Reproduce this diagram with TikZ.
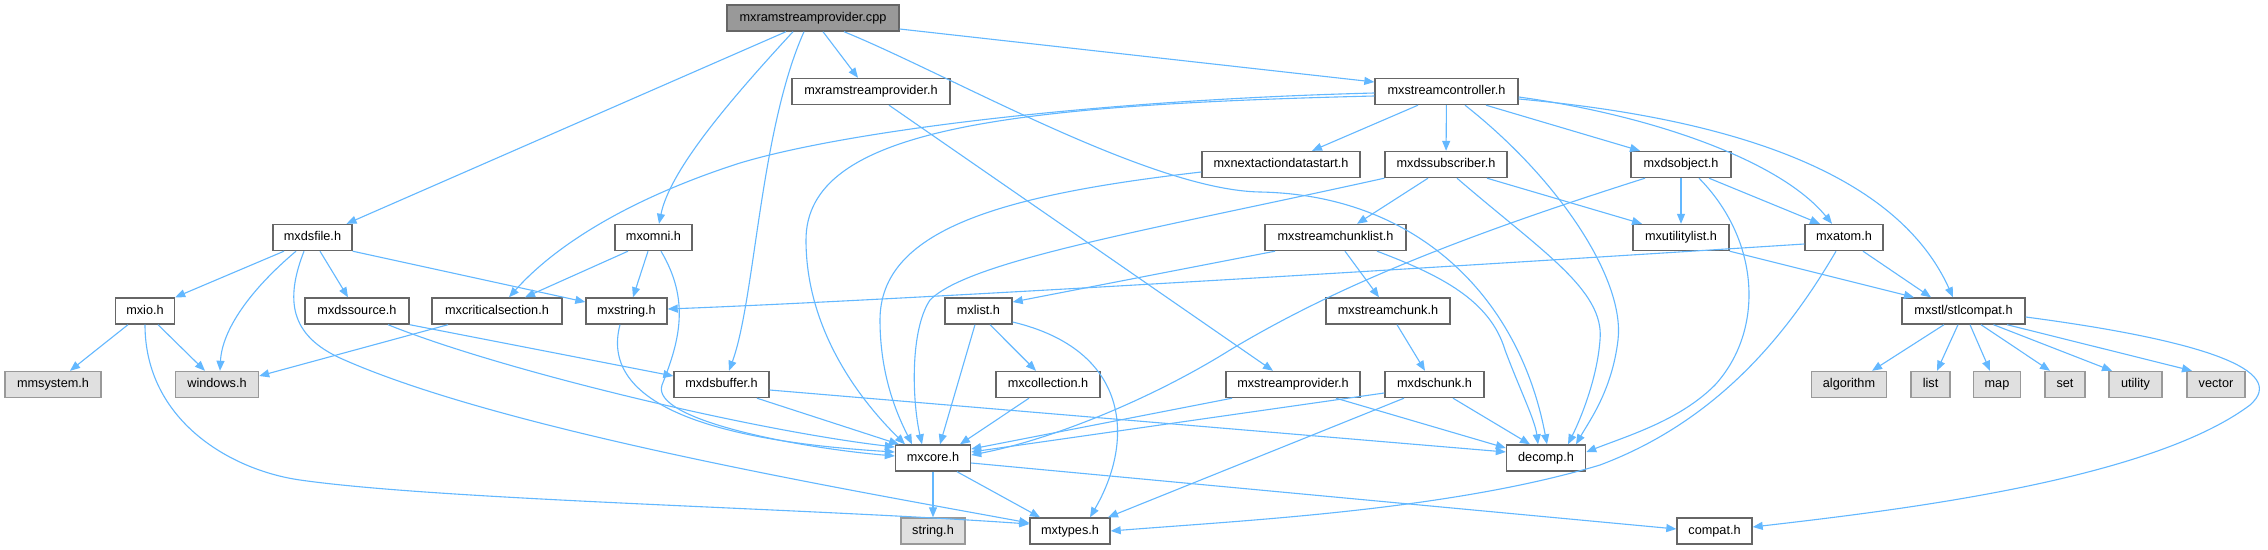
\documentclass[tikz,border=0pt]{standalone}
\usepackage{fontspec}
\setmainfont{Liberation Sans}
\usetikzlibrary{arrows.meta}
\definecolor{edgec}{HTML}{63B8FF}
\definecolor{bordc}{HTML}{666666}
\definecolor{extb}{HTML}{999999}
\definecolor{extf}{HTML}{E0E0E0}
\definecolor{rootf}{HTML}{999999}
\begin{document}
\begin{tikzpicture}[x=1pt,y=-1pt,
 box/.style={draw=bordc, line width=1.4pt, fill=white, minimum height=26pt, inner sep=0pt,
   font=\fontsize{12.7}{15}\selectfont, text height=9.3pt, text depth=2.7pt},
 ext/.style={box, draw=extb, fill=extf},
 root/.style={box, fill=rootf},
 edge/.style={draw=edgec, line width=1.1pt, -{Triangle[length=10pt,width=8pt]}}]
\fill[white] (0,0) rectangle (2268,549);
\useasboundingbox (0,0) rectangle (2268,549);
% nodes
\node[root, minimum width=172pt] (cpp) at (813,18) {mxramstreamprovider.cpp};
\node[box, minimum width=158pt] (rsph) at (871,91.5) {mxramstreamprovider.h};
\node[box, minimum width=143pt] (ctrl) at (1446.5,91.5) {mxstreamcontroller.h};
\node[box, minimum width=158pt] (nads) at (1281,164.5) {mxnextactiondatastart.h};
\node[box, minimum width=122pt] (sub) at (1446,164.5) {mxdssubscriber.h};
\node[box, minimum width=100pt] (obj) at (1681,164.5) {mxdsobject.h};
\node[box, minimum width=79pt] (dsfile) at (312.5,237.5) {mxdsfile.h};
\node[box, minimum width=77pt] (omni) at (653.5,237.5) {mxomni.h};
\node[box, minimum width=141pt] (scl) at (1335.5,237.5) {mxstreamchunklist.h};
\node[box, minimum width=96pt] (ulist) at (1681,237.5) {mxutilitylist.h};
\node[box, minimum width=78pt] (atom) at (1844,237.5) {mxatom.h};
\node[box, minimum width=59pt] (io) at (145,311) {mxio.h};
\node[box, minimum width=104pt] (src) at (357,311) {mxdssource.h};
\node[box, minimum width=130pt] (crit) at (497,311) {mxcriticalsection.h};
\node[box, minimum width=81pt] (str) at (626.5,311) {mxstring.h};
\node[box, minimum width=67pt] (list) at (978.5,311) {mxlist.h};
\node[box, minimum width=124pt] (chunk) at (1388,311) {mxstreamchunk.h};
\node[box, minimum width=123pt] (stl) at (1963.5,311) {mxstl/stlcompat.h};
\node[ext, minimum width=96pt] (mmsys) at (53,384.5) {mmsystem.h};
\node[ext, minimum width=83pt] (win) at (217,384.5) {windows.h};
\node[box, minimum width=95pt] (buf) at (721.5,384.5) {mxdsbuffer.h};
\node[box, minimum width=104pt] (coll) at (1048,384.5) {mxcollection.h};
\node[box, minimum width=134pt] (sprov) at (1293,384.5) {mxstreamprovider.h};
\node[box, minimum width=99pt] (dschunk) at (1434.5,384.5) {mxdschunk.h};
\node[ext, minimum width=75pt] (alg) at (1849,384.5) {algorithm};
\node[ext, minimum width=39pt] (lst) at (1930.5,384.5) {list};
\node[ext, minimum width=47pt] (map) at (1997,384.5) {map};
\node[ext, minimum width=40pt] (set) at (2065,384.5) {set};
\node[ext, minimum width=53pt] (util) at (2135.5,384.5) {utility};
\node[ext, minimum width=58pt] (vec) at (2216,384.5) {vector};
\node[box, minimum width=75pt] (core) at (933,458) {mxcore.h};
\node[box, minimum width=79pt] (decomp) at (1546,458) {decomp.h};
\node[ext, minimum width=64pt] (strh) at (933,531) {string.h};
\node[box, minimum width=80pt] (types) at (1070,531) {mxtypes.h};
\node[box, minimum width=75pt] (compat) at (1714.5,531) {compat.h};
% cpp
\draw[edge] ([xshift=-27pt]cpp.south) -- ([xshift=34pt]dsfile.north);
\draw[edge] ([xshift=-20pt]cpp.south) .. controls (730,100) and (670,170) .. ([xshift=5.5pt]omni.north);
\draw[edge] ([xshift=-9pt]cpp.south) .. controls (760,130) and (755,300) .. ([xshift=7.5pt]buf.north);
\draw[edge] ([xshift=10pt]cpp.south) -- ([xshift=-13pt]rsph.north);
\draw[edge] ([xshift=31pt]cpp.south) .. controls (950,75) and (1150,190) .. (1260,192) .. controls (1420,195) and (1520,300) .. ([xshift=1pt]decomp.north);
\draw[edge] ([yshift=-11pt]cpp.east) -- ([yshift=9.5pt]ctrl.west);
% rsph
\draw[edge] ([xshift=18pt]rsph.south) -- ([xshift=-20pt]sprov.north);
% ctrl
\draw[edge] ([yshift=-1.5pt]ctrl.west) .. controls (1100,100) and (850,130) .. (740,163) .. controls (640,195) and (560,240) .. ([xshift=12pt]crit.north);
\draw[edge] ([yshift=-4.5pt]ctrl.west) .. controls (1000,105) and (806,130) .. (806,240) .. controls (806,330) and (860,400) .. ([xshift=-28pt]core.north);
\draw[edge] ([xshift=-28.5pt]ctrl.south) -- ([xshift=31pt]nads.north);
\draw[edge] (ctrl) -- (sub);
\draw[edge] ([xshift=18.5pt]ctrl.south) .. controls (1560,180) and (1625,280) .. (1618,340) .. controls (1612,390) and (1590,420) .. ([xshift=30pt]decomp.north);
\draw[edge] ([xshift=39.5pt]ctrl.south) -- ([xshift=-41pt]obj.north);
\draw[edge] ([yshift=-5.5pt]ctrl.east) .. controls (1650,115) and (1780,160) .. ([xshift=-12pt]atom.north);
\draw[edge] ([yshift=-7.5pt]ctrl.east) .. controls (1750,120) and (1900,180) .. ([xshift=-10.5pt]stl.north);
% nads
\draw[edge] ([yshift=-7.5pt]nads.west) .. controls (1000,195) and (880,230) .. (880,320) .. controls (880,380) and (900,420) .. ([xshift=-21pt]core.north);
% sub
\draw[edge] (sub.south west) .. controls (1150,230) and (970,260) .. (930,300) .. controls (910,330) and (912,400) .. ([xshift=-11pt]core.north);
\draw[edge] ([xshift=-18pt]sub.south) -- ([xshift=21.5pt]scl.north);
\draw[edge] ([xshift=41pt]sub.south) -- ([xshift=-39pt]ulist.north);
\draw[edge] ([xshift=11pt]sub.south) .. controls (1540,250) and (1605,290) .. (1600,340) .. controls (1597,380) and (1580,420) .. ([xshift=22pt]decomp.north);
% obj
\draw[edge] (obj) -- (ulist);
\draw[edge] ([xshift=28pt]obj.south) -- ([xshift=-24pt]atom.north);
\draw[edge] ([xshift=18pt]obj.south) .. controls (1760,240) and (1765,330) .. (1715,385) .. controls (1680,420) and (1630,435) .. ([yshift=6pt]decomp.east);
\draw[edge] ([xshift=-36pt]obj.south) .. controls (1450,240) and (1330,290) .. (1230,350) .. controls (1150,400) and (1050,440) .. ([yshift=3pt]core.east);
% scl
\draw[edge] ([xshift=-60.5pt]scl.south) -- ([yshift=9pt]list.east);
\draw[edge] ([xshift=9.5pt]scl.south) -- ([xshift=-9pt]chunk.north);
\draw[edge] ([xshift=41.5pt]scl.south) .. controls (1440,275) and (1490,300) .. (1505,350) .. controls (1520,390) and (1535,420) .. ([xshift=-8pt]decomp.north);
% atom
\draw[edge] ([yshift=-6.5pt]atom.west) .. controls (1400,270) and (900,300) .. ([yshift=2pt]str.east);
\draw[edge] ([xshift=19pt]atom.south) -- ([xshift=-32.5pt]stl.north);
\draw[edge] ([xshift=-8pt]atom.south) .. controls (1790,330) and (1720,420) .. (1600,465) .. controls (1450,510) and (1250,520) .. (types.east);
% ulist
\draw[edge] (ulist.south east) -- ([xshift=-49.5pt]stl.north);
% dsfile
\draw[edge] ([xshift=-28.5pt]dsfile.south) -- (io.north east);
\draw[edge] ([xshift=-16.5pt]dsfile.south) .. controls (250,290) and (222,330) .. ([xshift=3pt]win.north);
\draw[edge] ([xshift=-8.5pt]dsfile.south) .. controls (285,300) and (290,335) .. (340,358) .. controls (500,430) and (850,490) .. ([yshift=8pt]types.west);
\draw[edge] ([xshift=7.5pt]dsfile.south) -- ([xshift=-9pt]src.north);
\draw[edge] (dsfile.south east) -- ([yshift=9pt]str.west);
% io
\draw[edge] ([xshift=-17pt]io.south) -- ([xshift=17pt]mmsys.north);
\draw[edge] ([xshift=13pt]io.south) -- ([xshift=-12pt]win.north);
\draw[edge] (io.south) .. controls (145,420) and (230,470) .. (300,480) .. controls (440,500) and (800,508) .. ([yshift=7pt]types.west);
% src
\draw[edge] (src.south east) -- ([yshift=8.5pt]buf.west);
\draw[edge] ([xshift=31pt]src.south) .. controls (500,370) and (750,430) .. ([yshift=11pt]core.west);
% crit
\draw[edge] ([xshift=-49pt]crit.south) -- ([yshift=8.5pt]win.east);
% omni
\draw[edge] ([xshift=-25.5pt]omni.south) -- ([xshift=28pt]crit.north);
\draw[edge] ([xshift=-5.5pt]omni.south) -- ([xshift=6.5pt]str.north);
\draw[edge] ([xshift=7.5pt]omni.south) .. controls (690,300) and (680,340) .. (662,385) .. controls (650,420) and (800,448) .. ([yshift=2pt]core.west);
% str
\draw[edge] ([xshift=-6.5pt]str.south) .. controls (600,400) and (700,440) .. ([yshift=6pt]core.west);
% buf
\draw[edge] ([xshift=35.5pt]buf.south) -- ([xshift=-34pt]core.north);
\draw[edge] ([yshift=-5.5pt]buf.east) -- ([yshift=6pt]decomp.west);
% list
\draw[edge] ([xshift=-3.5pt]list.south) -- ([xshift=7pt]core.north);
\draw[edge] ([xshift=11.5pt]list.south) -- ([xshift=-12pt]coll.north);
\draw[edge] ([yshift=-11pt]list.east) .. controls (1130,350) and (1135,440) .. ([xshift=20pt]types.north);
% coll
\draw[edge] ([xshift=-19pt]coll.south) -- ([xshift=27pt]core.north);
% sprov
\draw[edge] ([xshift=-61pt]sprov.south) -- ([yshift=9pt]core.east);
\draw[edge] ([xshift=43pt]sprov.south) -- ([yshift=10pt]decomp.west);
% chunk
\draw[edge] ([xshift=9pt]chunk.south) -- ([xshift=-9.5pt]dschunk.north);
% dschunk
\draw[edge] ([yshift=-8.5pt]dschunk.west) -- ([yshift=6pt]core.east);
\draw[edge] ([xshift=18.5pt]dschunk.south) -- ([xshift=-16pt]decomp.north);
\draw[edge] ([xshift=-30.5pt]dschunk.south) -- ([xshift=38pt]types.north);
% core
\draw[edge] (core) -- (strh);
\draw[edge] ([xshift=24pt]core.south) -- ([xshift=-30pt]types.north);
\draw[edge] ([yshift=-5pt]core.east) -- ([yshift=2pt]compat.west);
% stl
\draw[edge] ([xshift=-19.5pt]stl.south) -- ([xshift=23pt]alg.north);
\draw[edge] ([xshift=-5.5pt]stl.south) -- ([xshift=6.5pt]lst.north);
\draw[edge] ([xshift=6.5pt]stl.south) -- ([xshift=-7pt]map.north);
\draw[edge] ([xshift=17.5pt]stl.south) -- ([xshift=-15pt]set.north);
\draw[edge] ([xshift=30pt]stl.south) -- ([xshift=-23.5pt]util.north);
\draw[edge] ([xshift=43.5pt]stl.south) -- ([xshift=-24pt]vec.north);
\draw[edge] ([yshift=-6pt]stl.east) .. controls (2200,340) and (2290,370) .. (2250,405) .. controls (2150,480) and (1900,510) .. ([yshift=4pt]compat.east);
\end{tikzpicture}
\end{document}
